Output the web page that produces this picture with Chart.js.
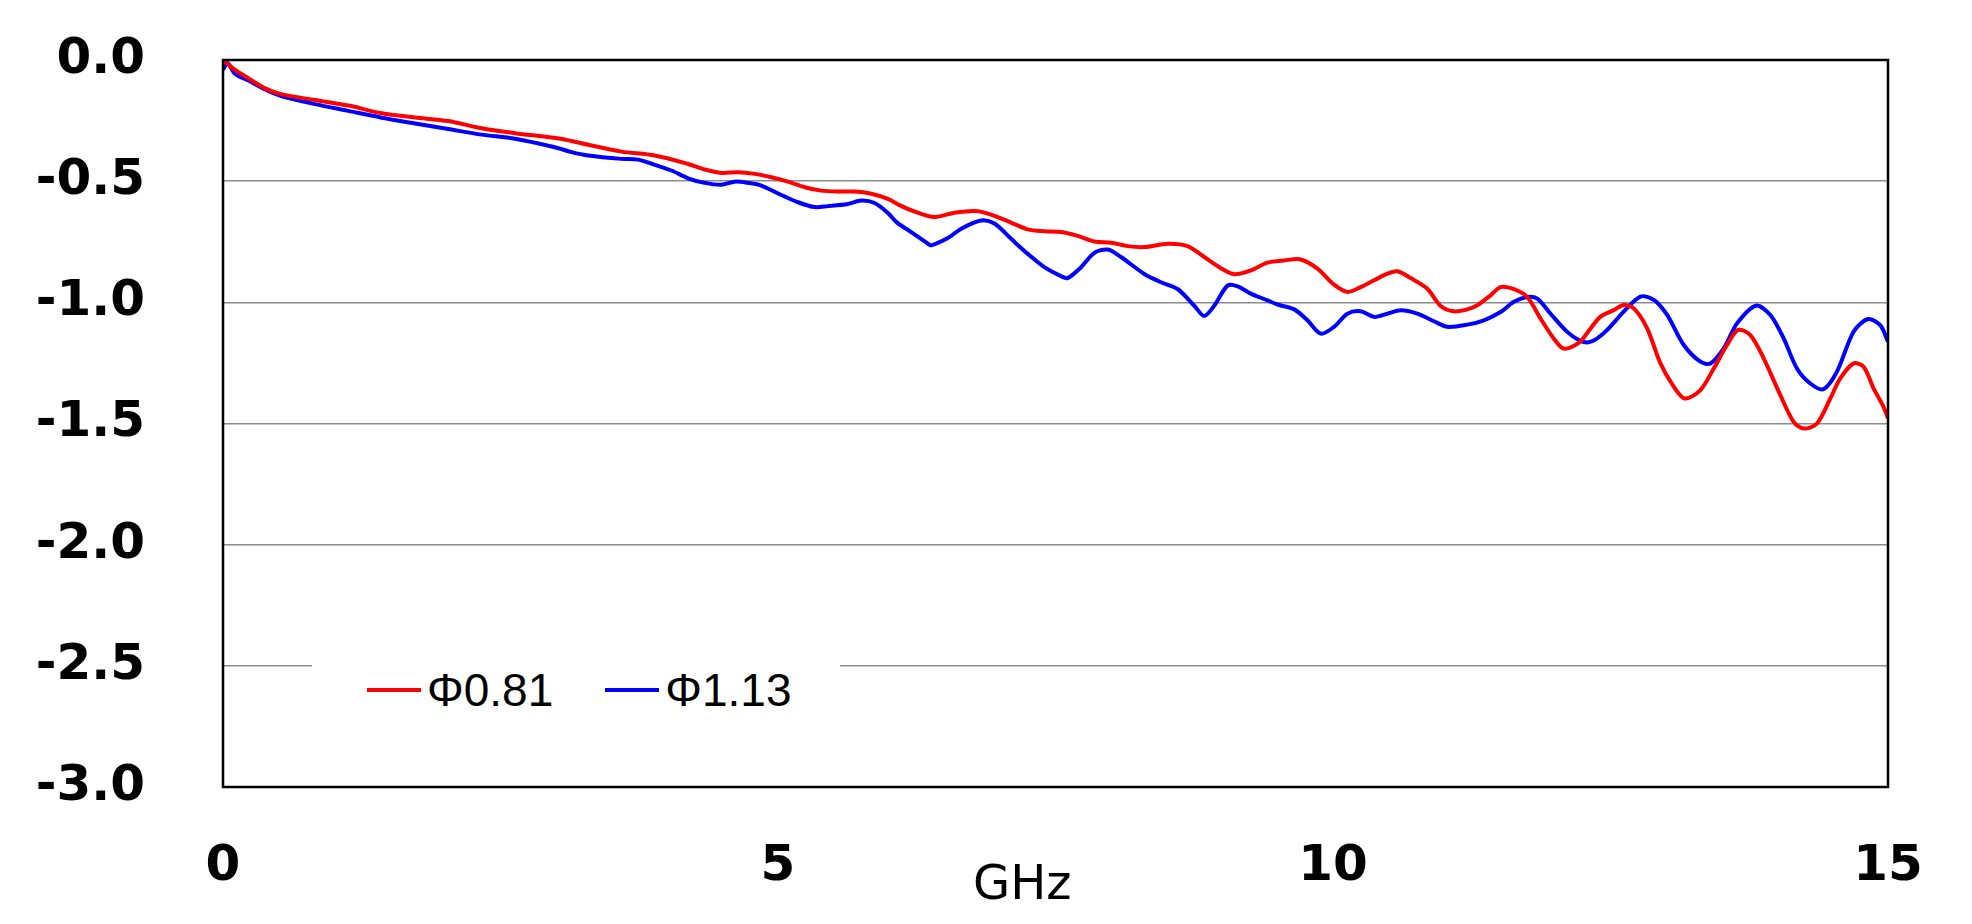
<!DOCTYPE html>
<html>
<head>
<meta charset="utf-8">
<script src="https://cdn.jsdelivr.net/npm/chart.js@4.4.1/dist/chart.umd.min.js"></script>
<style>
  html, body { margin: 0; padding: 0; background: #fff; }
  #wrap { position: relative; width: 1972px; height: 924px; }
  #legend {
    position: absolute; left: 312px; top: 648px; width: 528px; height: 84px;
    background: #fff; display: flex; align-items: center;
    font-family: "Liberation Sans", Arial, sans-serif; font-size: 46px; color: #000;
  }
  #legend .item { display: flex; align-items: center; margin-left: 55px; }
  #legend .item + .item { margin-left: 52px; }
  #legend .swatch { width: 54px; height: 4px; margin-right: 6px; }
</style>
</head>
<body>
<div id="wrap">
  <canvas id="lossChart" width="1972" height="924"></canvas>
  <div id="legend"></div>
</div>
<script>
// Insertion loss vs frequency
const seriesNames = ['Φ0.81', 'Φ1.13'];
const seriesColors = ['#ff0000', '#0000ff'];

const freqRed = [0, 0.11, 0.23, 0.38, 0.53, 0.83, 1.13, 1.43, 1.73, 2.03, 2.33, 2.63, 3.04, 3.29, 3.59, 3.89,
  4.19, 4.34, 4.49, 4.64, 4.79, 4.94, 5.09, 5.24, 5.39, 5.54, 5.69, 5.84, 5.99, 6.1, 6.2, 6.41, 6.59, 6.8,
  6.95, 7.1, 7.25, 7.4, 7.55, 7.7, 7.85, 8.0, 8.15, 8.3, 8.51, 8.69, 8.84, 8.99, 9.11, 9.26, 9.41, 9.56,
  9.71, 9.86, 10.01, 10.13, 10.25, 10.37, 10.49, 10.58, 10.7, 10.85, 10.97, 11.09, 11.21, 11.3, 11.42,
  11.51, 11.63, 11.75, 11.87, 11.99, 12.08, 12.22, 12.3, 12.41, 12.53, 12.62, 12.71, 12.83, 12.95, 13.07,
  13.17, 13.31, 13.43, 13.55, 13.65, 13.76, 13.88, 14.03, 14.15, 14.24, 14.36, 14.48, 14.57, 14.69, 14.78,
  14.87, 14.96, 15.0];
const lossRed = [0, -0.041, -0.076, -0.117, -0.142, -0.165, -0.188, -0.22, -0.237, -0.252, -0.282, -0.302,
  -0.325, -0.35, -0.378, -0.394, -0.429, -0.452, -0.466, -0.463, -0.47, -0.484, -0.502, -0.525, -0.539,
  -0.543, -0.543, -0.552, -0.573, -0.6, -0.62, -0.648, -0.63, -0.624, -0.643, -0.671, -0.699, -0.707,
  -0.71, -0.726, -0.749, -0.754, -0.768, -0.772, -0.758, -0.768, -0.813, -0.859, -0.884, -0.868, -0.836,
  -0.827, -0.823, -0.861, -0.927, -0.957, -0.937, -0.909, -0.882, -0.872, -0.9, -0.944, -1.015, -1.037,
  -1.029, -1.012, -0.971, -0.937, -0.946, -0.978, -1.067, -1.15, -1.191, -1.165, -1.12, -1.059, -1.032,
  -1.011, -1.025, -1.107, -1.252, -1.348, -1.397, -1.362, -1.273, -1.176, -1.114, -1.135, -1.231, -1.383,
  -1.493, -1.521, -1.5, -1.397, -1.314, -1.252, -1.266, -1.355, -1.431, -1.479];

const freqBlue = [0, 0.04, 0.11, 0.23, 0.38, 0.53, 0.83, 1.13, 1.43, 1.73, 2.03, 2.33, 2.63, 2.99, 3.14,
  3.29, 3.59, 3.74, 3.89, 4.04, 4.19, 4.34, 4.49, 4.61, 4.73, 4.85, 5.03, 5.18, 5.33, 5.45, 5.63, 5.75,
  5.87, 5.99, 6.07, 6.2, 6.35, 6.38, 6.53, 6.65, 6.83, 6.95, 7.1, 7.25, 7.4, 7.55, 7.61, 7.73, 7.85, 7.97,
  8.09, 8.3, 8.45, 8.6, 8.75, 8.84, 8.93, 9.05, 9.14, 9.26, 9.41, 9.5, 9.65, 9.77, 9.89, 10.01, 10.13,
  10.25, 10.37, 10.49, 10.61, 10.76, 10.91, 11.03, 11.21, 11.36, 11.51, 11.63, 11.75, 11.84, 11.96, 12.11,
  12.22, 12.3, 12.38, 12.47, 12.62, 12.77, 12.89, 13.01, 13.16, 13.31, 13.4, 13.52, 13.64, 13.81, 13.94,
  14.06, 14.18, 14.3, 14.42, 14.54, 14.69, 14.82, 14.93, 15.0];
const lossBlue = [-0.04, -0.012, -0.058, -0.085, -0.122, -0.15, -0.182, -0.21, -0.238, -0.262, -0.285,
  -0.308, -0.325, -0.36, -0.38, -0.394, -0.408, -0.411, -0.433, -0.456, -0.488, -0.507, -0.515, -0.502,
  -0.507, -0.518, -0.557, -0.587, -0.607, -0.603, -0.594, -0.58, -0.59, -0.631, -0.67, -0.71, -0.758,
  -0.765, -0.735, -0.696, -0.662, -0.675, -0.738, -0.8, -0.855, -0.892, -0.9, -0.855, -0.796, -0.782,
  -0.813, -0.883, -0.917, -0.945, -1.014, -1.056, -1.014, -0.931, -0.934, -0.964, -0.992, -1.009, -1.029,
  -1.074, -1.129, -1.101, -1.047, -1.037, -1.06, -1.047, -1.033, -1.047, -1.078, -1.101, -1.092, -1.074,
  -1.04, -0.998, -0.978, -0.985, -1.047, -1.122, -1.157, -1.165, -1.149, -1.114, -1.038, -0.976, -0.99,
  -1.052, -1.176, -1.245, -1.252, -1.19, -1.087, -1.014, -1.052, -1.149, -1.273, -1.335, -1.358, -1.286,
  -1.121, -1.069, -1.094, -1.162];

const xTicks = [0, 5, 10, 15];
const yTicks = [0, -0.5, -1, -1.5, -2, -2.5, -3];
const xTitle = 'GHz';
const xTitleAt = 7.2; // GHz position the unit label sits under

function toPoints(xs, ys) {
  return xs.map((x, i) => ({ x: x, y: ys[i] }));
}

// Black frame round the plot area + the "GHz" label under the axis
const frameAndTitle = {
  id: 'frameAndTitle',
  afterDraw(chart) {
    const { ctx, chartArea: a, scales } = chart;
    ctx.save();
    ctx.strokeStyle = '#000';
    ctx.lineWidth = 2.5;
    ctx.strokeRect(a.left, a.top, a.right - a.left, a.bottom - a.top);
    ctx.fillStyle = '#000';
    ctx.font = '48px "DejaVu Sans"';
    ctx.textAlign = 'center';
    ctx.textBaseline = 'middle';
    ctx.fillText(xTitle, scales.x.getPixelForValue(xTitleAt), 887);
    ctx.restore();
  }
};

const tickFont = { family: 'DejaVu Sans', size: 50, weight: 'bold' };

new Chart(document.getElementById('lossChart'), {
  type: 'line',
  data: {
    datasets: [
      {
        label: seriesNames[0],
        data: toPoints(freqRed, lossRed),
        borderColor: seriesColors[0],
        borderWidth: 4,
        pointRadius: 0,
        tension: 0.3
      },
      {
        label: seriesNames[1],
        data: toPoints(freqBlue, lossBlue),
        borderColor: seriesColors[1],
        borderWidth: 4,
        pointRadius: 0,
        tension: 0.3
      }
    ]
  },
  options: {
    responsive: false,
    animation: false,
    layout: { padding: { top: 60, right: 84, left: 0, bottom: 0 } },
    plugins: {
      legend: { display: false },
      tooltip: { enabled: false }
    },
    scales: {
      x: {
        type: 'linear',
        min: 0,
        max: 15,
        // fixed axis band, and don't let the big labels push the plot edges in
        afterFit: s => { s.height = 137; s.paddingLeft = 0; s.paddingRight = 0; },
        afterBuildTicks: s => { s.ticks = xTicks.map(v => ({ value: v })); },
        grid: { display: false, drawTicks: false },
        border: { display: false },
        ticks: { color: '#000', font: tickFont, padding: 50, maxRotation: 0 }
      },
      y: {
        min: -3,
        max: 0,
        afterFit: s => { s.width = 223; s.paddingTop = 0; s.paddingBottom = 0; },
        afterBuildTicks: s => { s.ticks = yTicks.map(v => ({ value: v })); },
        grid: { color: '#8c8c8c', lineWidth: 1.5, drawTicks: false },
        border: { display: false },
        ticks: {
          color: '#000',
          font: tickFont,
          padding: 78,
          callback: v => Number(v).toFixed(1)
        }
      }
    }
  },
  plugins: [frameAndTitle]
});

// legend overlay, sitting inside the plot like the original
const legendEl = document.getElementById('legend');
seriesNames.forEach((name, i) => {
  const item = document.createElement('div');
  item.className = 'item';
  item.innerHTML = '<span class="swatch" style="background:' + seriesColors[i] + '"></span><span>' + name + '</span>';
  legendEl.appendChild(item);
});
</script>
</body>
</html>
